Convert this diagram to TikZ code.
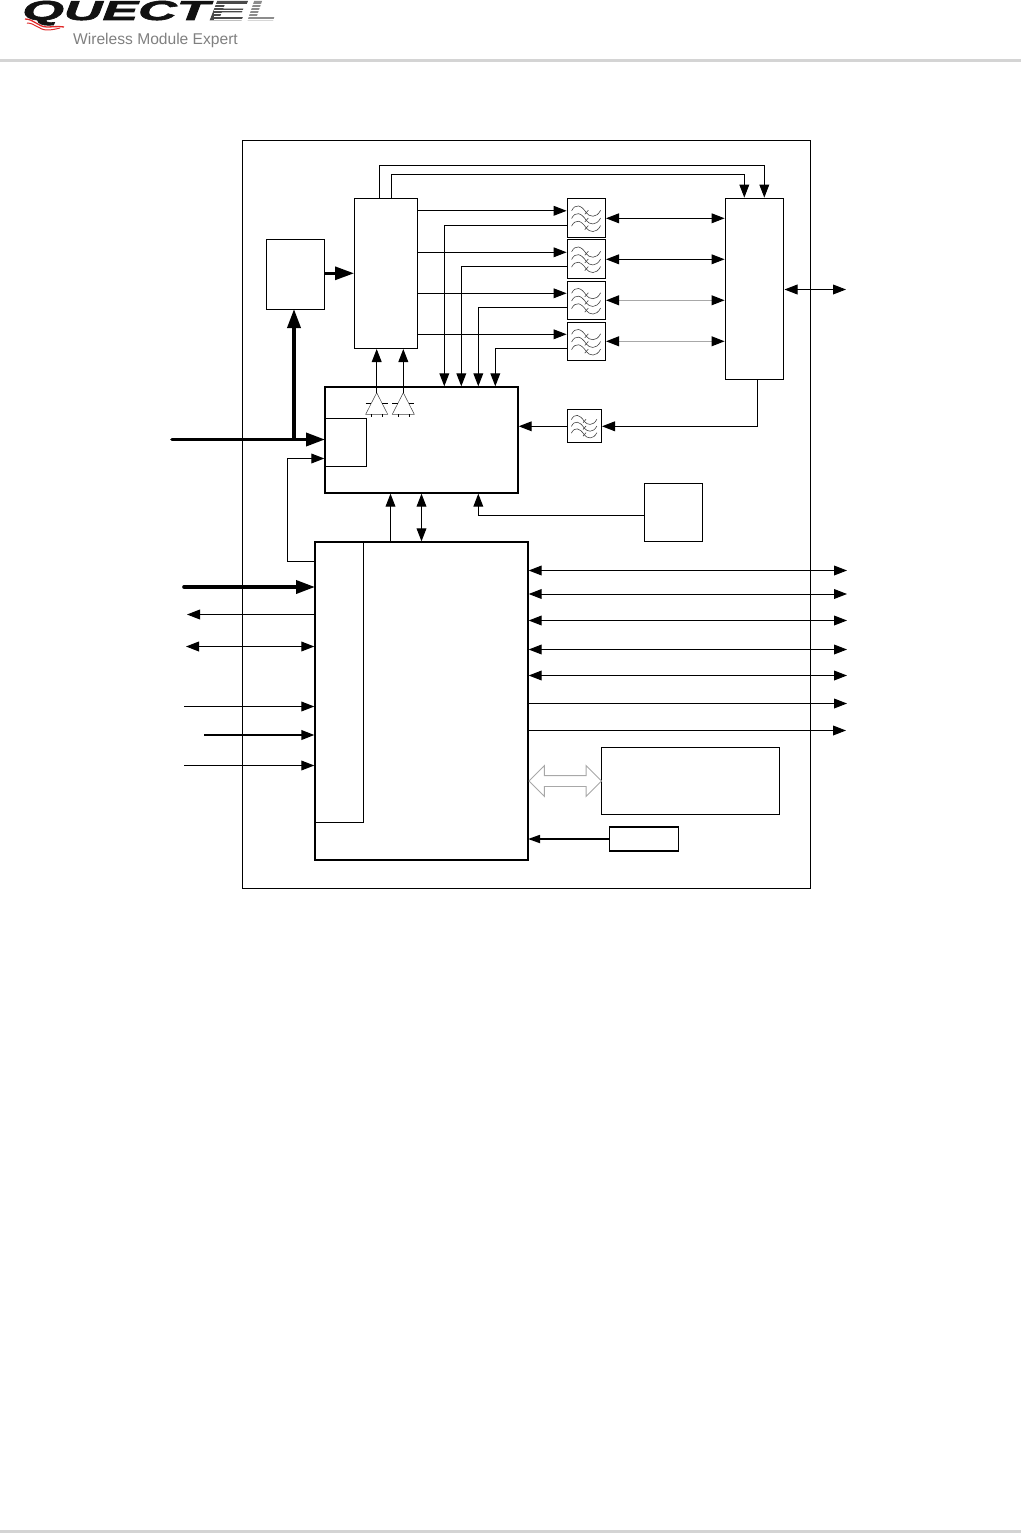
\documentclass[tikz,border=0pt]{standalone}
\usepackage{fontspec}
\setmainfont{Liberation Sans}
\usetikzlibrary{arrows.meta, positioning, shapes.geometric, shapes.arrows}
\definecolor{logoBlack}{HTML}{111111}
\definecolor{logoDark}{HTML}{4A4A4A}
\definecolor{logoLight}{HTML}{8C8C8C}
\definecolor{logoRed}{HTML}{E02A2A}
\definecolor{ruleGray}{HTML}{D4D4D4}
\definecolor{textMuted}{HTML}{808080}
\definecolor{lineGray}{HTML}{A8A8A8}
\definecolor{waveGray}{HTML}{444444}
\newcommand{\lnaticks}[1]{
  \draw[lnaline] ([xshift=-11pt,yshift=-10.6pt]#1.apex) -- ([xshift=-5.5pt,yshift=-10.6pt]#1.apex);
  \draw[lnaline] ([xshift=5.5pt,yshift=-10.6pt]#1.apex) -- ([xshift=11pt,yshift=-10.6pt]#1.apex);
  \draw[lnaline] ([xshift=-5.5pt,yshift=-21.6pt]#1.apex) -- ([xshift=-5.5pt,yshift=-24.6pt]#1.apex);
  \draw[lnaline] ([xshift=5.5pt,yshift=-21.6pt]#1.apex) -- ([xshift=5.5pt,yshift=-24.6pt]#1.apex);
}
\begin{document}
\begin{tikzpicture}[
    x=1pt, y=-1pt,
    sigtip/.tip={Triangle[length=13pt,width=9.8pt,color=black]},
    powertip/.tip={Triangle[length=19pt,width=13pt]},
    blockbox/.style={rectangle, draw=black, line width=1pt, inner sep=0pt, outer sep=0pt, anchor=north west},
    heavybox/.style={blockbox, line width=2pt},
    fltbox/.style={rectangle, draw=black, line width=1pt, inner sep=0pt, outer sep=0pt,
      minimum width=38pt},
    lna/.style={isosceles triangle, isosceles triangle stretches, shape border rotate=90,
      minimum width=22pt, minimum height=21.6pt, inner sep=0pt, outer sep=0pt, anchor=apex,
      draw=waveGray, line width=0.5pt},
    lnaline/.style={draw=black, line width=0.5pt},
    sig/.style={draw=black, line width=1pt, -{sigtip}, shorten >=0.7pt},
    sigboth/.style={draw=black, line width=1pt, {sigtip}-{sigtip}, shorten >=0.7pt, shorten <=0.7pt},
    sigfaint/.style={sigboth, draw=lineGray, line width=1.3pt},
    power/.style={draw=black, line width=3.6pt, -{powertip}},
    clockline/.style={draw=black, line width=1.7pt, -{Triangle[length=12pt,width=8pt]}},
    logotext/.style={font=\fontsize{27.4}{30}\selectfont\bfseries\itshape\addfontfeatures{FakeBold=2},
      inner sep=0pt, anchor=base west, transform shape},
    waves/.pic={
      \foreach \dy in {-7,0.7,8.3} {
        \draw[waveGray, line width=0.6pt] (-14.7,\dy) .. controls (-11,\dy-7.5) and (-5,\dy-6) .. (0,\dy+2)
          .. controls (3,\dy+6) and (10,\dy+8) .. (14.3,\dy-0.5);
        \draw[waveGray, line width=0.6pt] (-1.5,\dy+3.5) -- (2,\dy-0.5);
      }
    }
  ]
  \useasboundingbox (0,0) rectangle (1021,1533);

  % page header and footer
  \node[logotext, text=logoBlack, xscale=1.95] (logoa) at (22,20) {QUECT};
  \node[logotext, text=logoDark, xscale=2.0] (logob) at (209,20) {E};
  \node[logotext, text=logoLight, xscale=1.75] (logoc) at (247,20) {L};
  \foreach \yy in {4,7,10,13,16,19} {
    \draw[white, line width=0.8pt] (214,\yy) -- (280,\yy);
  }
  \draw[logoRed, line width=1.3pt] (25,19) .. controls (34,19) and (38,27) .. (47,27) .. controls (53,27) and (58,26) .. (64,27);
  \draw[logoRed, line width=1pt] (27,23) .. controls (35,23) and (39,30) .. (47,30) .. controls (52,30) and (56,29) .. (60,28);
  \node[font=\fontsize{15.6}{18}\selectfont, text=textMuted, inner sep=0pt] (slogan) at (155.5,40) {Wireless Module Expert};
  \fill[ruleGray] (0,59) rectangle (1021,62);
  \fill[ruleGray] (0,1530) rectangle (1021,1533);

  % blocks
  \node[blockbox, minimum width=568pt, minimum height=747.5pt] (module) at (242.5,140.5) {};
  \node[blockbox, minimum width=58pt, minimum height=70pt] (pm) at (266.5,239) {};
  \node[blockbox, minimum width=63pt, minimum height=150pt] (pa) at (354,198.3) {};
  \node[blockbox, minimum width=58.5pt, minimum height=181pt] (sw) at (725.3,198.3) {};
  \node[fltbox, minimum height=39pt, anchor=north west] (flt1) at (567.3,198.3) {};
  \node[fltbox, minimum height=39pt, below=2pt of flt1] (flt2) {};
  \node[fltbox, minimum height=38pt, below=3pt of flt2] (flt3) {};
  \node[fltbox, minimum height=38pt, below=3pt of flt3] (flt4) {};
  \node[fltbox, minimum width=34pt, minimum height=33pt, anchor=north west] (flt5) at (567.3,409.3) {};
  \pic at (flt1) {waves};
  \pic at (flt2) {waves};
  \pic at (flt3) {waves};
  \pic at (flt4) {waves};
  \pic[scale=0.88] at (flt5) {waves};

  \node[heavybox, minimum width=193pt, minimum height=106pt] (trx) at (325,387) {};
  \node[blockbox, minimum width=41pt, minimum height=48pt] (trxcol) at (325,418) {};
  \node[lna] (lna1) at (376.7,392.7) {};
  \node[lna] (lna2) at (403.3,392.7) {};
  \lnaticks{lna1}
  \lnaticks{lna2}
  \node[blockbox, minimum width=58pt, minimum height=57.5pt] (det) at (644.5,483.5) {};
  \node[heavybox, minimum width=213pt, minimum height=318pt] (bb) at (315,542) {};
  \node[blockbox, minimum width=48.5pt, minimum height=280pt] (bbcol) at (315,542) {};
  \node[blockbox, minimum width=178pt, minimum height=67pt] (mem) at (601.5,747.5) {};
  \node[blockbox, line width=1.5pt, minimum width=69pt, minimum height=24pt] (xtal) at (609.5,827) {};
  \node[double arrow, double arrow head extend=10pt, minimum height=72.6pt, minimum width=30pt,
    inner sep=5pt, outer sep=0pt, draw=lineGray, line width=0.9pt] (memlink) at (565.2,781) {};

  % free ends
  \coordinate (ant) at (846.7,289.5);
  \coordinate (vin) at (172,439.5);
  \coordinate (vtap) at (294,439.5);
  \coordinate (vbat) at (184,587);
  \coordinate (lfta) at (186.3,614.5);
  \coordinate (lftb) at (185.3,646.5);
  \coordinate (lftc) at (184,706.5);
  \coordinate (lftd) at (204,735);
  \coordinate (lfte) at (184,765.5);
  \coordinate (rgta) at (847.7,570.5);
  \coordinate (rgtb) at (847.7,594);
  \coordinate (rgtc) at (847.7,620.5);
  \coordinate (rgtd) at (847.7,649.5);
  \coordinate (rgte) at (847.7,675.5);
  \coordinate (rgtf) at (847.7,703.5);
  \coordinate (rgtg) at (846.7,730.5);

  % rf part
  \draw[sig] ([xshift=-6pt]pa.north) -- ++(0,-32.8) -| ([xshift=9.75pt]sw.north);
  \draw[sig] ([xshift=6pt]pa.north) -- ++(0,-23.8) -| ([xshift=-10.25pt]sw.north);
  \draw[sig] ([yshift=7pt]flt1.west -| pa.east) -- ([yshift=7pt]flt1.west);
  \draw[sig] ([yshift=6.5pt]flt2.west -| pa.east) -- ([yshift=6.5pt]flt2.west);
  \draw[sig] ([yshift=7pt]flt3.west -| pa.east) -- ([yshift=7pt]flt3.west);
  \draw[sig] ([yshift=7pt]flt4.west -| pa.east) -- ([yshift=7pt]flt4.west);
  \draw[sig] ([yshift=-7.5pt]flt1.west) -| ([xshift=22.8pt]trx.north);
  \draw[sig] ([yshift=-7.5pt]flt2.west) -| ([xshift=39.8pt]trx.north);
  \draw[sig] ([yshift=-7pt]flt3.west) -| ([xshift=56.8pt]trx.north);
  \draw[sig] ([yshift=-7pt]flt4.west) -| ([xshift=73.8pt]trx.north);
  \draw[sigboth] ([yshift=-0.5pt]flt1.east) -- ([yshift=-0.5pt]flt1.east -| sw.west);
  \draw[sigboth] ([yshift=-0.5pt]flt2.east) -- ([yshift=-0.5pt]flt2.east -| sw.west);
  \draw[sigfaint] (flt3.east) -- (flt3.east -| sw.west);
  \draw[sigfaint] (flt4.east) -- (flt4.east -| sw.west);
  \draw[sigboth] (ant -| sw.east) -- (ant);
  \draw[sig] ([xshift=2.75pt]sw.south) |- ([yshift=-0.5pt]flt5.east);
  \draw[sig] ([yshift=-0.5pt]flt5.west) -- ([yshift=-0.5pt]flt5.west -| trx.east);
  \draw[sig] (lna1.apex) -- (lna1.apex |- pa.south);
  \draw[sig] (lna2.apex) -- (lna2.apex |- pa.south);
  \draw[sig] ([yshift=-3.2pt]det.west) -| ([xshift=56.8pt]trx.south);

  % power
  \draw[power, line width=3pt] (pm.east |- pa.west) -- (pa.west);
  \draw[power] (vtap) -- (vtap |- pm.south);
  \draw[power, line cap=round] (vin) -- (vin -| trx.west);
  \draw[power, line cap=round] (vbat) -- (vbat -| bb.west);
  \draw[sig] ([yshift=-19pt]bb.north west) -- ++(-28,0) |- ([yshift=-18.5pt]trx.west);

  % baseband
  \draw[sig] ([xshift=-31pt]bb.north) -- ([xshift=-31pt]trx.south);
  \draw[sigboth] (bb.north) -- (trx.south);
  \draw[sig] (lfta -| bb.west) -- (lfta);
  \draw[sigboth] (lftb) -- (lftb -| bb.west);
  \draw[sig] (lftc) -- (lftc -| bb.west);
  \draw[sig, line width=1.5pt] (lftd) -- (lftd -| bb.west);
  \draw[sig] (lfte) -- (lfte -| bb.west);
  \draw[sigboth] (rgta -| bb.east) -- (rgta);
  \draw[sigboth] (rgtb -| bb.east) -- (rgtb);
  \draw[sigboth] (rgtc -| bb.east) -- (rgtc);
  \draw[sigboth] (rgtd -| bb.east) -- (rgtd);
  \draw[sigboth] (rgte -| bb.east) -- (rgte);
  \draw[sig] (rgtf -| bb.east) -- (rgtf);
  \draw[sig] (rgtg -| bb.east) -- (rgtg);
  \draw[clockline] (xtal.west) -- (xtal.west -| bb.east);
\end{tikzpicture}
\end{document}
